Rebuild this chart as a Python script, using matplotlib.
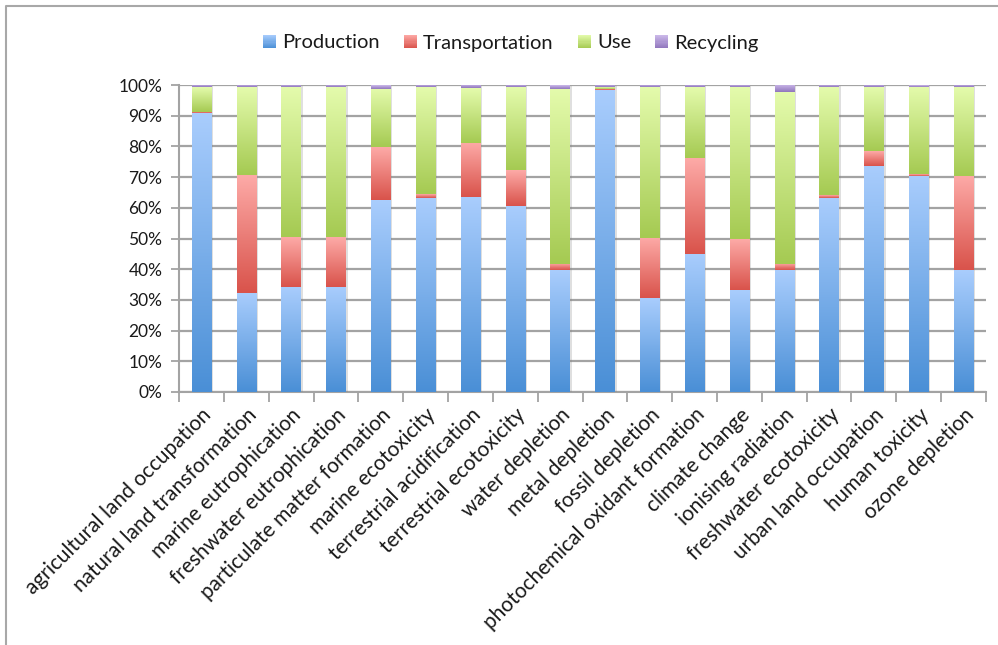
import numpy as np
import matplotlib
matplotlib.use('Agg')
import matplotlib.pyplot as plt
from matplotlib.colors import LinearSegmentedColormap, to_rgb
from matplotlib.patches import Rectangle, Patch
from matplotlib.legend_handler import HandlerBase
from matplotlib.lines import Line2D
import matplotlib.patheffects as pe

categories = [
    "agricultural land occupation", "natural land transformation",
    "marine eutrophication", "freshwater eutrophication",
    "particulate matter formation", "marine ecotoxicity",
    "terrestrial acidification", "terrestrial ecotoxicity",
    "water depletion", "metal depletion", "fossil depletion",
    "photochemical oxidant formation", "climate change",
    "ionising radiation", "freshwater ecotoxicity",
    "urban land occupation", "human toxicity", "ozone depletion",
]
production     = [90.8, 32.3, 34.3, 34.3, 62.5, 63.3, 63.5, 60.6, 39.7, 98.4, 30.6, 45.0, 33.2, 39.7, 63.3, 73.7, 70.5, 39.7]
transportation = [0.5, 38.3, 16.1, 16.1, 17.2, 1.2, 17.6, 11.7, 2.0, 0.4, 19.6, 31.2, 16.5, 2.0, 0.9, 4.8, 0.6, 30.7]
use            = [7.9, 28.6, 48.8, 48.8, 19.1, 34.7, 17.9, 26.9, 57.1, 0.5, 49.0, 23.1, 49.5, 56.0, 35.0, 20.7, 28.4, 28.8]
recycling      = [0.8, 0.8, 0.8, 0.8, 1.2, 0.8, 1.0, 0.8, 1.2, 0.7, 0.8, 0.7, 0.8, 2.3, 0.8, 0.8, 0.5, 0.8]
series_names = ["Production", "Transportation", "Use", "Recycling"]
yticks = list(range(0, 101, 10))
ytick_labels = [f"{v}%" for v in yticks]

# (bottom colour, top colour) gradients
grad_colors = [
    ("#4a8fd6", "#a9cdfd"),
    ("#d9534b", "#fdaaa7"),
    ("#a5ca52", "#e4fbac"),
    ("#9076bd", "#cdbaea"),
]

plt.rcParams['font.family'] = ['Lato', 'DejaVu Sans']
text_color = "#1a1a1a"
gray = "#a3a3a3"

fig = plt.figure(figsize=(9.98, 6.45), dpi=100)
ax = fig.add_axes([179/998, 1-392/645, (986-179)/998, (392-85)/645])

x = np.arange(len(categories))
bottom = np.zeros(len(categories))
grad = np.linspace(0, 1, 128).reshape(-1, 1)
for name, vals, (c0, c1) in zip(series_names,
                                [production, transportation, use, recycling],
                                grad_colors):
    vals = np.array(vals, dtype=float)
    bars = ax.bar(x, vals, 0.43, bottom=bottom, color=c0, linewidth=0,
                  zorder=3, label=name)
    cmap = LinearSegmentedColormap.from_list(name, [c0, c1])
    for b in bars:
        b.set_path_effects([pe.SimplePatchShadow(offset=(1.5, -1), shadow_rgbFace="#808080", alpha=0.25),
                            pe.Normal()])
        x0, y0 = b.get_x(), b.get_y()
        im = ax.imshow(grad, cmap=cmap, origin='lower', aspect='auto',
                       extent=[x0, x0 + b.get_width(), y0, y0 + b.get_height()],
                       zorder=3.5, interpolation='bilinear')
        im.set_clip_path(b)
    bottom += vals

ax.set_xlim(-0.5, len(categories) - 0.5)
ax.set_ylim(0, 100)

ax.set_yticks(yticks)
ax.set_yticklabels(ytick_labels, color=text_color, fontsize=12.5)
ax.yaxis.grid(True, color=gray, linewidth=1.6)
ax.set_axisbelow(True)

ax.set_xticks(np.arange(-0.5, len(categories), 1))
ax.set_xticklabels([])
ax.set_xticks(x, minor=True)
ax.set_xticklabels(categories, minor=True, rotation=45, ha='right',
                   rotation_mode='anchor', fontsize=15, color=text_color)
ax.tick_params(axis='x', which='major', length=7, color=gray, width=1.3)
ax.tick_params(axis='x', which='minor', length=0, pad=9)
ax.tick_params(axis='y', length=6, color=gray, width=1.3, pad=6)

for s in ['top', 'right']:
    ax.spines[s].set_visible(False)
for s in ['left', 'bottom']:
    ax.spines[s].set_color(gray)
    ax.spines[s].set_linewidth(1.5)


class GradHandler(HandlerBase):
    def __init__(self, c0, c1):
        super().__init__()
        self.c0 = np.array(to_rgb(c0))
        self.c1 = np.array(to_rgb(c1))

    def create_artists(self, legend, orig_handle, xdescent, ydescent,
                       width, height, fontsize, trans):
        n = 12
        arts = []
        for i in range(n):
            t = (i + 0.5) / n
            col = self.c0 * (1 - t) + self.c1 * t
            r = Rectangle((-xdescent, -ydescent + height * i / n), width,
                          height / n + 0.05, facecolor=col, edgecolor='none',
                          transform=trans)
            arts.append(r)
        return arts


handles = [Patch(label=n) for n in series_names]
handler_map = {h: GradHandler(c0, c1) for h, (c0, c1) in zip(handles, grad_colors)}
fig.legend(handles=handles, handler_map=handler_map, loc='center',
           bbox_to_anchor=(511/998, 1-43/645), ncol=4, frameon=False,
           fontsize=14.5, handlelength=0.65, handleheight=0.65,
           handletextpad=0.3, columnspacing=1.2, labelcolor=text_color)

# figure border (left and top)
fig.add_artist(Line2D([6/998, 6/998, 1.0], [0.0, 1-6/645, 1-6/645],
                      transform=fig.transFigure, color="#a8a8a8", linewidth=1.5))

fig.savefig("out.png", dpi=100)
